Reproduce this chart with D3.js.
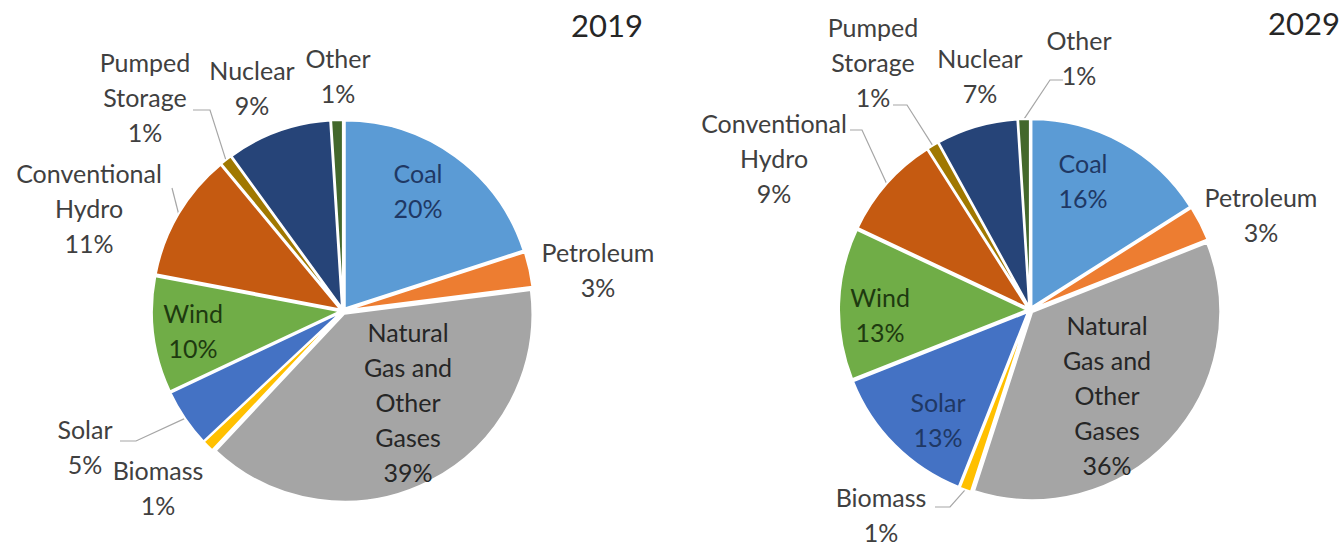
<!DOCTYPE html>
<html>
<head>
<meta charset="utf-8">
<script src="https://cdn.jsdelivr.net/npm/d3@7"></script>
<style>
  html, body { margin: 0; padding: 0; background: #ffffff; }
  svg { display: block; }
  text { font-family: Lato, "Open Sans", sans-serif; }
</style>
</head>
<body>
<svg id="chart" width="1344" height="548"></svg>
<script>
// Electricity generation mix by source, share of total (%)
const categories = ["Coal", "Petroleum", "Natural Gas and Other Gases", "Biomass", "Solar",
                    "Wind", "Conventional Hydro", "Pumped Storage", "Nuclear", "Other"];
const categoryLines = [["Coal"], ["Petroleum"], ["Natural", "Gas and", "Other", "Gases"], ["Biomass"], ["Solar"],
                       ["Wind"], ["Conventional", "Hydro"], ["Pumped", "Storage"], ["Nuclear"], ["Other"]];
const years = ["2019", "2029"];
const share2019 = [20, 3, 39, 1, 5, 10, 11, 1, 9, 1];
const share2029 = [16, 3, 36, 1, 13, 13, 9, 1, 7, 1];

const sliceColors = ["#5B9BD5", "#ED7D31", "#A5A5A5", "#FFC000", "#4472C4",
                     "#70AD47", "#C55A11", "#A07800", "#264478", "#43682B"];
// text colour used when a label sits on its own slice
const insideColors = ["#1F3864", "#404040", "#262626", "#404040", "#1F3864",
                      "#1E3A10", "#404040", "#404040", "#404040", "#404040"];
const outsideColor = "#404040";

// Placement of each pie and its data labels (offsets from the pie centre)
const panels = [
  {
    year: years[0], values: share2019, cx: 343, cy: 311,
    titleX: 643, titleY: 37,
    inside: [0, 2, 5],
    labels: [[75, -128], [255, -49], [65, 31], [-185, 169], [-258, 128],
             [-150, 12], [-254, -128], [-198, -239], [-91, -231], [-5, -243]],
    leaders: { 4: [[-223, 130], [-207, 130]], 6: [[-171, -123]], 7: [[-150, -201], [-133, -201]] }
  },
  {
    year: years[1], values: share2029, cx: 1030, cy: 310,
    titleX: 1340, titleY: 35,
    inside: [0, 2, 4, 5],
    labels: [[53, -137], [231, -103], [77, 25], [-149, 197], [-92, 102],
             [-150, -3], [-256, -177], [-157, -273], [-50, -242], [49, -260]],
    leaders: { 3: [[-95, 197], [-80, 197]], 6: [[-180, -180], [-168, -180]],
               7: [[-137, -205], [-123, -205]], 9: [[33, -230], [20, -230]] }
  }
];

const radius = 188;
const explode = 3;
const lineHeight = 35;

const svg = d3.select("#chart");
const pie = d3.pie().sort(null).value(d => d.value);
const arc = d3.arc().innerRadius(0).outerRadius(radius);

panels.forEach(p => {
  const data = categories.map((c, i) => ({ name: c, index: i, value: p.values[i] }));
  const arcs = pie(data);
  const g = svg.append("g").attr("transform", `translate(${p.cx},${p.cy})`);

  // leader lines
  Object.entries(p.leaders).forEach(([k, pts]) => {
    const a = arcs[+k];
    const mid = (a.startAngle + a.endAngle) / 2;
    const end = [(radius + explode) * Math.sin(mid), -(radius + explode) * Math.cos(mid)];
    g.append("path")
      .attr("d", d3.line()(pts.concat([end])))
      .attr("fill", "none")
      .attr("stroke", "#a6a6a6")
      .attr("stroke-width", 1.2);
  });

  // slices, each pushed slightly outward from the centre
  g.selectAll("path.slice")
    .data(arcs)
    .join("path")
    .attr("class", "slice")
    .attr("d", arc)
    .attr("fill", d => sliceColors[d.data.index])
    .attr("stroke", "#ffffff")
    .attr("stroke-width", 2)
    .attr("stroke-linejoin", "round")
    .attr("transform", d => {
      const mid = (d.startAngle + d.endAngle) / 2;
      return `translate(${explode * Math.sin(mid)},${-explode * Math.cos(mid)})`;
    });

  // data labels: category name and rounded share
  arcs.forEach(a => {
    const i = a.data.index;
    const [lx, ly] = p.labels[i];
    const lines = categoryLines[i].concat([d3.format(".0f")(a.data.value) + "%"]);
    const t = g.append("text")
      .attr("text-anchor", "middle")
      .attr("font-size", 25)
      .attr("fill", p.inside.includes(i) ? insideColors[i] : outsideColor);
    lines.forEach((ln, j) => {
      t.append("tspan").attr("x", lx).attr("y", ly + j * lineHeight).text(ln);
    });
  });

  // year heading
  svg.append("text")
    .attr("x", p.titleX)
    .attr("y", p.titleY)
    .attr("text-anchor", "end")
    .attr("font-size", 31)
    .attr("fill", "#262626")
    .text(p.year);
});
</script>
</body>
</html>
